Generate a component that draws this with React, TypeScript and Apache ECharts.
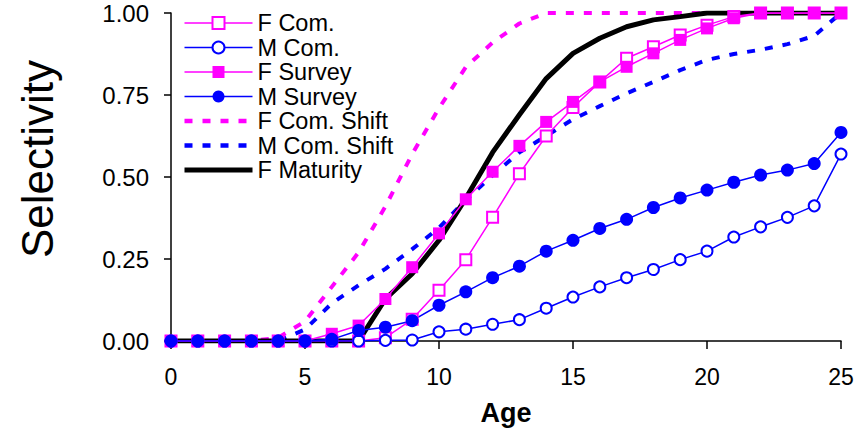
import React, { useEffect, useRef } from "react";
import * as echarts from "echarts";

// Age classes on the x axis
const ages = [0, 1, 2, 3, 4, 5, 6, 7, 8, 9, 10, 11, 12, 13, 14, 15, 16, 17, 18, 19, 20, 21, 22, 23, 24, 25];

// Selectivity / maturity at age
const fCom = [0, 0, 0, 0, 0, 0, 0, 0, 0.01, 0.066, 0.155, 0.248, 0.377, 0.51, 0.625, 0.712, 0.79, 0.862, 0.897, 0.933, 0.963, 0.989, 1, 1, 1, 1];
const mCom = [0, 0, 0, 0, 0, 0, 0, 0, 0.002, 0.003, 0.028, 0.036, 0.051, 0.065, 0.1, 0.134, 0.165, 0.193, 0.218, 0.248, 0.274, 0.317, 0.348, 0.377, 0.412, 0.57];
const fSurvey = [0, 0, 0, 0, 0, 0, 0.022, 0.047, 0.128, 0.225, 0.328, 0.432, 0.516, 0.595, 0.668, 0.729, 0.79, 0.836, 0.877, 0.918, 0.953, 0.984, 1, 1, 1, 1];
const mSurvey = [0, 0, 0, 0, 0, 0, 0.005, 0.032, 0.042, 0.062, 0.109, 0.15, 0.193, 0.228, 0.274, 0.307, 0.343, 0.371, 0.407, 0.436, 0.46, 0.484, 0.506, 0.521, 0.541, 0.636];
const fComShift = [0, 0, 0, 0, 0.01, 0.06, 0.165, 0.27, 0.41, 0.57, 0.71, 0.835, 0.91, 0.968, 1, 1, 1, 1, 1, 1, 1, 1, 1, 1, 1, 1];
const mComShift = [0, 0, 0, 0, 0, 0.035, 0.115, 0.17, 0.22, 0.28, 0.345, 0.43, 0.505, 0.575, 0.625, 0.676, 0.716, 0.755, 0.79, 0.826, 0.857, 0.875, 0.888, 0.905, 0.93, 1];
const fMaturity = [0, 0, 0, 0, 0, 0, 0, 0, 0.128, 0.205, 0.307, 0.435, 0.575, 0.69, 0.8, 0.877, 0.923, 0.958, 0.979, 0.989, 1, 1, 1, 1, 1, 1];

const markerNames = ["F Com.", "M Com.", "F Survey", "M Survey"];

const MAGENTA = "#ff00ff";
const BLUE = "#0000ff";
const FONT = '"Liberation Sans", Arial, sans-serif';

const pairs = (vals: number[]) => ages.map((a, i) => [a, vals[i]]);

export default function App() {
  const ref = useRef<HTMLDivElement>(null);

  useEffect(() => {
    document.body.style.margin = "0";
    if (!ref.current) return;
    const chart = echarts.init(ref.current, null, { renderer: "svg" });

    const markerSeries = (name: string, vals: number[], color: string, symbol: string, size: number) => ({
      name,
      type: "line",
      data: pairs(vals),
      symbol,
      symbolSize: size,
      showSymbol: true,
      z: 3,
      lineStyle: { color, width: 1.5 },
      itemStyle: { color, borderColor: color, borderWidth: symbol.startsWith("empty") ? 1.5 : 0 },
    });

    const curveSeries = (name: string, vals: number[], color: string, width: number, dashed: boolean) => ({
      name,
      type: "line",
      data: pairs(vals),
      symbol: "none",
      z: 2,
      lineStyle: dashed ? { color, width, type: [8, 10] } : { color, width },
      itemStyle: { color },
    });

    // line-only legend keys for the curves, drawn at their own stroke width
    const curveKey = (name: string, width: number) => ({
      name,
      itemStyle: { opacity: 0 },
      lineStyle: { width },
    });

    chart.setOption({
      animation: false,
      backgroundColor: "#ffffff",
      textStyle: { fontFamily: FONT },
      grid: { left: 171, right: 24, top: 13, bottom: 99, containLabel: false, outerBoundsMode: "none" },
      legend: {
        data: [
          ...markerNames,
          curveKey("F Com. Shift", 4.5),
          curveKey("M Com. Shift", 4.5),
          curveKey("F Maturity", 5),
        ],
        orient: "vertical",
        left: 182,
        top: 11,
        padding: 0,
        itemWidth: 68,
        itemHeight: 15,
        itemGap: 0.5,
        lineStyle: { width: 1.5 },
        textStyle: { fontFamily: FONT, fontSize: 23.5, color: "#000", lineHeight: 24 },
      },
      xAxis: {
        type: "value",
        min: 0,
        max: 25,
        interval: 5,
        name: "Age",
        nameLocation: "middle",
        nameGap: 58,
        nameTextStyle: { fontFamily: FONT, fontSize: 27, fontWeight: "bold", color: "#000" },
        axisLine: { show: true, lineStyle: { color: "#000", width: 1.5 } },
        axisTick: { show: true, length: 8, lineStyle: { color: "#000", width: 1.5 } },
        axisLabel: { fontFamily: FONT, fontSize: 23, color: "#000", margin: 24 },
        splitLine: { show: false },
      },
      yAxis: {
        type: "value",
        min: 0,
        max: 1,
        interval: 0.25,
        axisLine: { show: true, lineStyle: { color: "#000", width: 1.5 } },
        axisTick: { show: true, length: 7, lineStyle: { color: "#000", width: 1.5 } },
        axisLabel: {
          fontFamily: FONT,
          fontSize: 24,
          color: "#000",
          margin: 22,
          formatter: (v: number) => v.toFixed(2),
        },
        splitLine: { show: false },
      },
      graphic: [
        {
          type: "text",
          x: 37,
          y: 159,
          rotation: Math.PI / 2,
          style: {
            text: "Selectivity",
            fontFamily: FONT,
            fontSize: 44,
            fill: "#000",
            align: "center",
            verticalAlign: "middle",
          },
        },
      ],
      series: [
        curveSeries("F Com. Shift", fComShift, MAGENTA, 4, true),
        curveSeries("M Com. Shift", mComShift, BLUE, 4, true),
        curveSeries("F Maturity", fMaturity, "#000000", 5, false),
        markerSeries("F Com.", fCom, MAGENTA, "emptyRect", 11),
        markerSeries("M Com.", mCom, BLUE, "emptyCircle", 11),
        markerSeries("F Survey", fSurvey, MAGENTA, "rect", 12),
        markerSeries("M Survey", mSurvey, BLUE, "circle", 13),
      ],
    });

    return () => chart.dispose();
  }, []);

  return <div ref={ref} style={{ width: 865, height: 440 }} />;
}
